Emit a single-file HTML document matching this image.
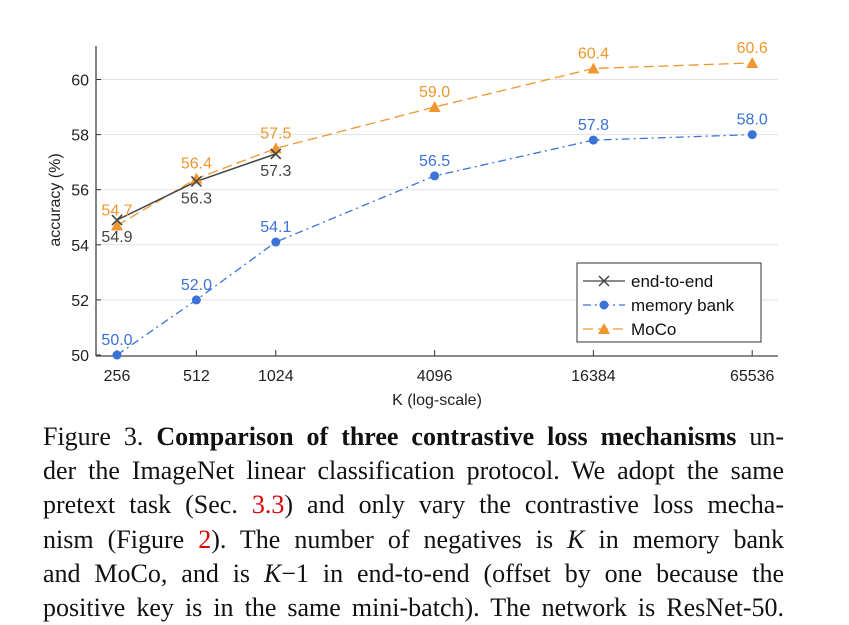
<!DOCTYPE html>
<html><head><meta charset="utf-8"><style>
body{margin:0;background:#fff;width:849px;height:622px;overflow:hidden;font-family:"Liberation Sans",sans-serif}
#cap{position:absolute;left:43px;top:420px;width:741px;font-family:"Liberation Serif",serif;font-size:26px;line-height:34.2px;color:#111}
#cap div{text-align:justify;text-align-last:justify;white-space:nowrap}
</style></head><body>
<svg id="chart" width="849" height="420" style="position:absolute;left:0;top:0" font-family="Liberation Sans, sans-serif"></svg>
<div id="cap">
<div>Figure 3. <b>Comparison of three contrastive loss mechanisms</b> un-</div>
<div>der the ImageNet linear classification protocol. We adopt the same</div>
<div>pretext task (Sec. <span style="color:#d00">3.3</span>) and only vary the contrastive loss mecha-</div>
<div>nism (Figure <span style="color:#d00">2</span>). The number of negatives is <i>K</i> in memory bank</div>
<div>and MoCo, and is <i>K</i>&minus;1 in end-to-end (offset by one because the</div>
<div>positive key is in the same mini-batch). The network is ResNet-50.</div>
</div>
<script>
const kTicks=[256,512,1024,4096,16384,65536];
const yTicks=[50,52,54,56,58,60];
const e2eK=[256,512,1024];
const e2eVals=[54.9,56.3,57.3];
const memK=[256,512,1024,4096,16384,65536];
const memVals=[50.0,52.0,54.1,56.5,57.8,58.0];
const mocoK=[256,512,1024,4096,16384,65536];
const mocoVals=[54.7,56.4,57.5,59.0,60.4,60.6];
const svg=document.getElementById('chart');
const NS='http://www.w3.org/2000/svg';
const x=k=>117+(Math.log2(k)-8)*79.4;
const y=v=>355-(v-50)*27.55;
function mk(tag,attrs,parent){const e=document.createElementNS(NS,tag);for(const a in attrs)e.setAttribute(a,attrs[a]);(parent||svg).appendChild(e);return e;}
yTicks.forEach(t=>{
 if(t>50){const g=mk('line',{x1:97,x2:778,y1:y(t),y2:y(t),stroke:'#e2e2e2','stroke-width':1});
 
 }
 const tl=mk('text',{x:89,y:y(t)+6,'text-anchor':'end','font-size':16,fill:'#222'});tl.textContent=t;
 
 
 mk('line',{x1:96,x2:101,y1:y(t),y2:y(t),stroke:'#333'});
});
const ya=mk('line',{x1:96,x2:96,y1:46,y2:356,stroke:'#444','stroke-width':1.3});


const xa=mk('line',{x1:96,x2:778,y1:356,y2:356,stroke:'#444','stroke-width':1.3});


kTicks.forEach(k=>{
 mk('line',{x1:x(k),x2:x(k),y1:350,y2:356,stroke:'#333'});
 const t=mk('text',{x:x(k),y:381,'text-anchor':'middle','font-size':16,fill:'#222'});t.textContent=k;
 
 
});
const xt=mk('text',{x:437,y:405,'text-anchor':'middle','font-size':16,fill:'#222'});xt.textContent='K (log-scale)';


const yt=mk('text',{x:0,y:0,'text-anchor':'middle','font-size':16,fill:'#222',transform:'translate(60,200) rotate(-90)'});yt.textContent='accuracy (%)';


const pts=(ks,vs)=>ks.map((k,i)=>x(k)+','+y(vs[i])).join(' ');
const blue='#3a72d8',orange='#f0962e',dark='#444';
const lm=mk('polyline',{points:pts(memK,memVals),fill:'none',stroke:blue,'stroke-width':1.3,'stroke-dasharray':'8,4,2,4'});


const lo=mk('polyline',{points:pts(mocoK,mocoVals),fill:'none',stroke:orange,'stroke-width':1.3,'stroke-dasharray':'10,5'});


const le=mk('polyline',{points:pts(e2eK,e2eVals),fill:'none',stroke:dark,'stroke-width':1.5});


memK.forEach((k,i)=>{const c=mk('circle',{cx:x(k),cy:y(memVals[i]),r:4.5,fill:blue});
 
 
 const t=mk('text',{x:x(k),y:y(memVals[i])-10,'text-anchor':'middle','font-size':16,fill:blue});t.textContent=memVals[i].toFixed(1);
 
 });
mocoK.forEach((k,i)=>{const cx=x(k),cy=y(mocoVals[i]);const p=mk('polygon',{points:`${cx},${cy-6} ${cx-6},${cy+5} ${cx+6},${cy+5}`,fill:orange});
 
 
 const t=mk('text',{x:cx,y:cy-10,'text-anchor':'middle','font-size':16,fill:orange});t.textContent=mocoVals[i].toFixed(1);
 
 });
e2eK.forEach((k,i)=>{const cx=x(k),cy=y(e2eVals[i]);const p=mk('path',{d:`M${cx-5},${cy-5}L${cx+5},${cy+5}M${cx-5},${cy+5}L${cx+5},${cy-5}`,stroke:dark,'stroke-width':1.6});
 
 
 const t=mk('text',{x:cx,y:cy+22,'text-anchor':'middle','font-size':16,fill:dark});t.textContent=e2eVals[i].toFixed(1);
 
 });
const lg=mk('g',{});


mk('rect',{x:577,y:263,width:184,height:79,fill:'#fff',stroke:'#333','stroke-width':1},lg);
const leg=[['end-to-end',dark,'',287],['memory bank',blue,'8,4,2,4',311],['MoCo',orange,'10,5',335]];
leg.forEach((L,i)=>{const yy=L[3]-6;
 mk('line',{x1:583,x2:625,y1:yy,y2:yy,stroke:L[1],'stroke-width':1.3,'stroke-dasharray':L[2]},lg);
 if(i==0)mk('path',{d:`M599,${yy-5}L609,${yy+5}M599,${yy+5}L609,${yy-5}`,stroke:dark,'stroke-width':1.5},lg);
 if(i==1)mk('circle',{cx:604,cy:yy,r:4.5,fill:blue},lg);
 if(i==2)mk('polygon',{points:`604,${yy-6} 598,${yy+5} 610,${yy+5}`,fill:orange},lg);
 const t=mk('text',{x:631,y:L[3],'font-size':17,fill:'#111'},lg);t.textContent=L[0];
 
 });
</script>
</body></html>
